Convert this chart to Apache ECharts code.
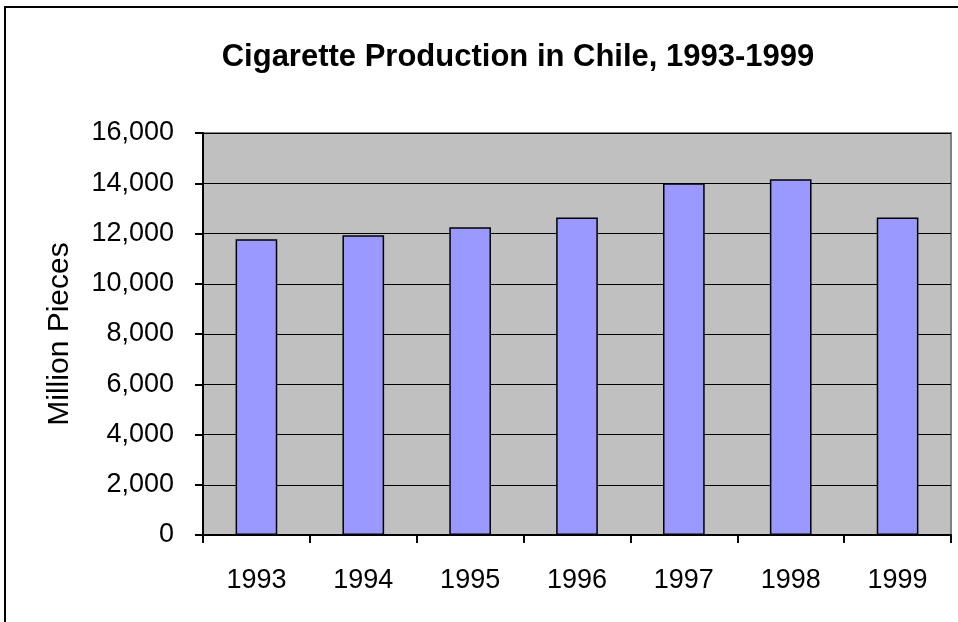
<!DOCTYPE html>
<html><head><meta charset="utf-8">
<script src="https://cdn.jsdelivr.net/npm/echarts@6/dist/echarts.min.js"></script>
<style>html,body{margin:0;padding:0;background:#fff}#c{width:958px;height:622px}</style>
</head><body><div id="c"></div>
<script>
const categories = ['1993','1994','1995','1996','1997','1998','1999'];
const production = [11770, 11930, 12250, 12640, 14000, 14160, 12640];
const titleText = 'Cigarette Production in Chile, 1993-1999';
const yAxisName = 'Million Pieces';

const chart = echarts.init(document.getElementById('c'));
chart.setOption({
  animation: false,
  backgroundColor: '#ffffff',
  title: {
    text: titleText, left: 513, top: 37, textAlign: 'center',
    textStyle: {fontFamily: 'Liberation Sans', fontWeight: 'bold', fontSize: 31, color: '#000'}
  },
  graphic: [{
    type: 'rect', shape: {x: 5, y: 7, width: 1100, height: 700},
    style: {fill: 'none', stroke: '#000', lineWidth: 2}, silent: true, z: -1
  }],
  grid: {left: 203, right: 7, top: 133, bottom: 87, show: true,
    backgroundColor: '#C0C0C0', borderColor: '#808080', borderWidth: 2},
  xAxis: {
    type: 'category', data: categories,
    axisLine: {lineStyle: {color: '#000', width: 2}},
    axisTick: {show: true, length: 8, inside: false, lineStyle: {color: '#000', width: 2}},
    axisLabel: {margin: 32, fontFamily: 'Liberation Sans', fontSize: 27, color: '#000'}
  },
  yAxis: {
    type: 'value', min: 0, max: 16000, interval: 2000,
    name: yAxisName, nameLocation: 'middle', nameGap: 128,
    nameTextStyle: {fontFamily: 'Liberation Sans', fontSize: 30, color: '#000'},
    axisLine: {show: true, lineStyle: {color: '#000', width: 2}},
    axisTick: {show: true, length: 8, lineStyle: {color: '#000', width: 2}},
    splitLine: {lineStyle: {color: '#000', width: 1}},
    axisLabel: {margin: 29, fontFamily: 'Liberation Sans', fontSize: 27, color: '#000',
      formatter: v => v.toLocaleString('en-US')}
  },
  series: [{
    type: 'bar', data: production, barWidth: '39%',
    itemStyle: {color: '#9999FF', borderColor: '#000', borderWidth: 1.5}
  }]
});
</script></body></html>
